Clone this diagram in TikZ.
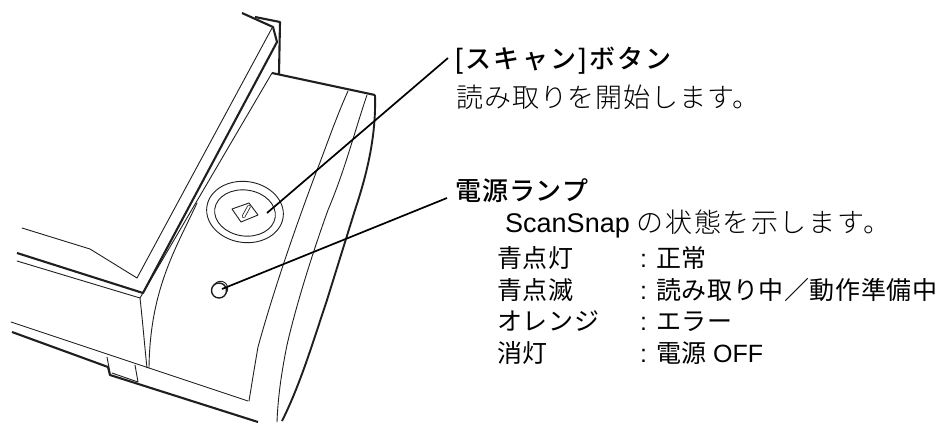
\documentclass[tikz,border=0pt]{standalone}
\usepackage{fontspec}
\usetikzlibrary{shapes.geometric}
\newfontfamily\jpgo[LetterSpace=3.5]{Noto Sans CJK JP Medium}
\newfontfamily\jphl[LetterSpace=9]{Noto Sans CJK JP Medium}
\newfontfamily\jpst[LetterSpace=2.5]{Noto Sans CJK JP}
\newfontfamily\jpli[LetterSpace=3.5]{Noto Sans CJK JP Light}
\newfontfamily\jplw[LetterSpace=6]{Noto Sans CJK JP Light}
\newfontfamily\lat{Liberation Sans}
\tikzset{
  thinline/.style={line width=0.9pt,line join=round,line cap=round,draw=black!88},
  thickline/.style={line width=2.1pt,line join=round,draw=black!88},
  leader/.style={line width=1.7pt,draw=black},
  head/.style={anchor=base west,inner sep=0pt,font=\jpgo\fontsize{26}{30}\selectfont},
  body/.style={anchor=base west,inner sep=0pt,font=\jpli\fontsize{27}{30}\selectfont},
  stat/.style={anchor=base west,inner sep=0pt,font=\jpst\fontsize{25}{30}\selectfont},
}
\begin{document}
\begin{tikzpicture}[x=1pt,y=-1pt]
\useasboundingbox (0,0) rectangle (949,423);
% casing
\draw[thinline] (272,28) -- (137,278) -- (90,249) -- (22,228);
\draw[thickline] (242,13) -- (273,27) -- (277,42) -- (143,293) -- (17,253);
\draw[thickline] (255,17) -- (280,22) -- (279,74);
\draw[thinline] (272,73) -- (140,298) -- (17,261);
\draw[thinline] (140,298) .. controls (143,325) and (145,350) .. (147,368);
\draw[thinline] (197,203) .. controls (175,250) and (150,290) .. (149,368);
\draw[thickline] (272,73) -- (375,95);
\draw[thickline,line width=1.9pt] (375,95) .. controls (376,130) and (370,165) .. (355,210) -- (327,300) .. controls (312,345) and (300,385) .. (282,421);
\draw[thinline] (348,91) .. controls (335,120) and (325,150) .. (317,170) .. controls (300,215) and (275,285) .. (258,347) .. controls (254,370) and (250,395) .. (249,401);
\draw[thinline] (367,95) .. controls (355,130) and (345,170) .. (328,210) .. controls (310,260) and (295,310) .. (287,345) .. controls (282,370) and (278,395) .. (277,422);
\draw[thinline] (11,322) -- (248,401);
\draw[thickline] (12,332) -- (108,367) -- (110,375) -- (258,422);
\draw[thinline] (107,357) -- (110,373);
\draw[thinline] (112,373) -- (138,382) -- (135,365);
% button
\node[ellipse,thinline,draw,minimum width=77pt,minimum height=61pt,inner sep=0pt,rotate=-8] (btnouter) at (245,212) {};
\node[ellipse,thinline,draw,minimum width=61pt,minimum height=46pt,inner sep=0pt,rotate=-8] (btninner) at (245,213) {};
\draw[thinline] (232,209) -- (249,203) -- (258,215) -- (241,222) -- cycle;
\draw[line width=3.6pt,line cap=round,black!88] (243.5,216.5) -- (249,206.5);
\draw[line width=2pt,line cap=round,white] (243.5,216.5) -- (249,206.5);
% lamp
\node[circle,thinline,draw,minimum size=14.5pt,inner sep=0pt] (lampback) at (220.5,288.5) {};
\node[circle,draw=black!88,fill=white,line width=1.4pt,minimum size=15pt,inner sep=0pt] (lamp) at (219,290.5) {};
% leaders
\coordinate (btntip) at (267,213);
\coordinate (btnend) at (448,58);
\coordinate (lamptip) at (222,289);
\coordinate (lampend) at (447,198);
\draw[leader] (btnend) -- (btntip);
\draw[leader] (lampend) -- (lamptip);
% texts
\node[head] (t1) at (455,68) {{\lat\fontsize{28}{30}\selectfont[}\hspace{2.5pt}{\jphl スキャン}\hspace{2pt}{\lat\fontsize{28}{30}\selectfont]}\hspace{3pt}{\jphl ボタン}};
\node[body] (t2) at (456,107) {読み取りを開始します。};
\node[head] (t3) at (455,200) {電源ランプ};
\node[body] (t4) at (505,232) {{\lat ScanSnap}\hspace{7pt}{\jplw の状態を示します。}};
\node[stat] (s1) at (497,267) {青点灯};
\node[stat] (s2) at (497,299) {青点滅};
\node[stat] (s3) at (497,330) {オレンジ};
\node[stat] (s4) at (497,362) {消灯};
\node[stat] (c1) at (640,267) {\lat :};
\node[stat] (c2) at (640,299) {\lat :};
\node[stat] (c3) at (640,330) {\lat :};
\node[stat] (c4) at (640,362) {\lat :};
\node[stat] (v1) at (656,267) {正常};
\node[stat] (v2) at (656,299) {読み取り中／動作準備中};
\node[stat] (v3) at (656,330) {エラー};
\node[stat] (v4) at (656,362) {電源 {\lat OFF}};
\end{tikzpicture}
\end{document}
